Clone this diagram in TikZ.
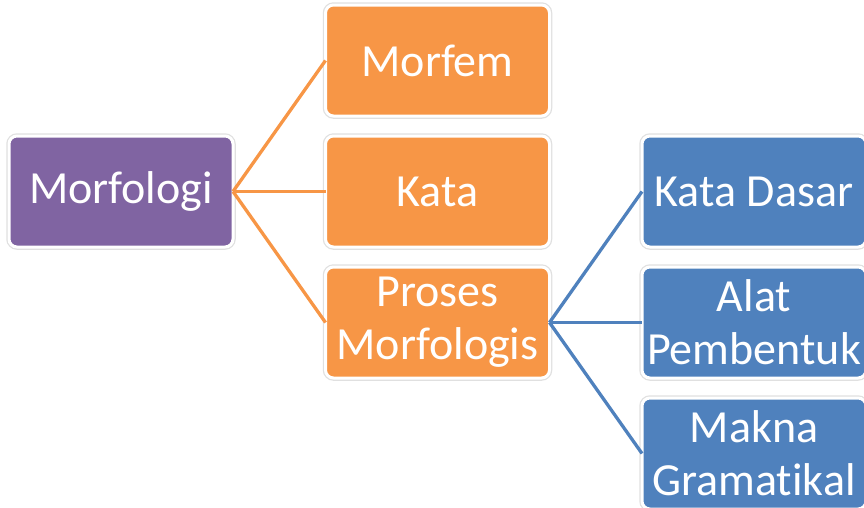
\documentclass[tikz,border=0pt]{standalone}
\usepackage{fontspec}
\setmainfont[RawFeature=-liga]{Carlito}
\usepackage{tikz}
\usetikzlibrary{positioning}
\definecolor{purplebox}{HTML}{8064A2}
\definecolor{orangebox}{HTML}{F79646}
\definecolor{bluebox}{HTML}{4F81BD}

\begin{document}
\begin{tikzpicture}[x=1pt,y=-1pt,node distance=20pt,outer sep=0pt,inner sep=2pt]
      \tikzset{box/.style={align=center,shape=rectangle,rounded corners=8pt,minimum width=224pt,minimum height=111pt,draw=white,line width=3pt,text=white,font=\fontsize{46}{53}\selectfont,preaction={draw=black!12,line width=5.5pt}}}
      \tikzset{link/.style={line width=3.3pt}}

      \useasboundingbox (0,0) rectangle (864,507);

      \node [box,fill=purplebox] (morfologi) at (121,191.5) {Morfologi};
      \node [box,fill=orangebox,right=92.5pt of morfologi] (kata) {Kata};
      \node [box,fill=orangebox,above=of kata] (morfem) {Morfem};
      \node [box,fill=orangebox,below=of kata] (proses) {Proses\\Morfologis};
      \node [box,fill=bluebox,right=92.5pt of proses] (alat) {Alat\\Pembentuk};
      \node [box,fill=bluebox,above=of alat] (dasar) {Kata Dasar};
      \node [box,fill=bluebox,below=of alat] (makna) {Makna\\Gramatikal};

      \draw [link,orangebox] (morfologi.east) -- (morfem.west);
      \draw [link,orangebox] (morfologi.east) -- (kata.west);
      \draw [link,orangebox] (morfologi.east) -- (proses.west);
      \draw [link,bluebox] (proses.east) -- (dasar.west);
      \draw [link,bluebox] (proses.east) -- (alat.west);
      \draw [link,bluebox] (proses.east) -- (makna.west);
\end{tikzpicture}
\end{document}
